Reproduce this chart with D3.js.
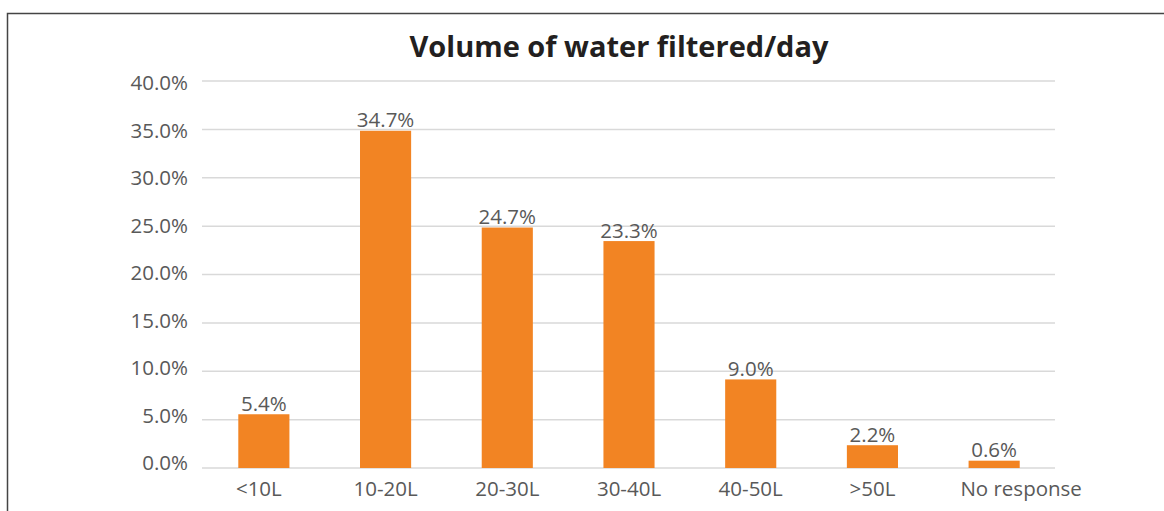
<!DOCTYPE html>
<html><head><meta charset="utf-8">
<script src="https://cdn.jsdelivr.net/npm/d3@7"></script>
<style>body{margin:0;background:#fff}svg{display:block}text{font-family:"Open Sans",sans-serif}</style>
</head><body><svg id="c" width="1164" height="511"></svg>
<script>
const categories = ["<10L","10-20L","20-30L","30-40L","40-50L",">50L","No response"];
const values = [5.4,34.7,24.7,23.3,9.0,2.2,0.6];
const yTicks = [0,5,10,15,20,25,30,35,40];
const title = "Volume of water filtered/day";

const svg = d3.select("#c");
svg.append("path").attr("d","M7.5,511 L7.5,13.5 L1164,13.5").attr("fill","none").attr("stroke","#444").attr("stroke-width",1.5);

const x = d3.scaleBand().domain(categories).range([203,1055]).paddingInner(0.58).paddingOuter(0.29);
const y = d3.scaleLinear().domain([0,40]).range([468,81]);
const yl = d3.scaleLinear().domain([0,40]).range([463,83]);

svg.append("g").selectAll("line").data(yTicks).join("line")
  .attr("x1",202).attr("x2",1055).attr("y1",d=>y(d)).attr("y2",d=>y(d))
  .attr("stroke","#d9d9d9").attr("stroke-width",1.5);

svg.append("g").selectAll("text").data(yTicks).join("text")
  .attr("x",188).attr("y",d=>yl(d)).attr("dy","0.36em").attr("text-anchor","end")
  .attr("font-size",20.5).attr("fill","#595959").text(d=>d.toFixed(1)+"%");

svg.append("g").selectAll("rect").data(values).join("rect")
  .attr("x",(d,i)=>x(categories[i])).attr("width",x.bandwidth())
  .attr("y",d=>y(d)-1.5).attr("height",d=>y(0)-y(d)+1.5).attr("fill","#f28423");

svg.append("g").selectAll("text").data(values).join("text")
  .attr("x",(d,i)=>x(categories[i])+x.bandwidth()/2).attr("y",d=>y(d)-5)
  .attr("text-anchor","middle").attr("font-size",20.5).attr("fill","#595959").text(d=>d.toFixed(1)+"%");

svg.append("g").selectAll("text").data(categories).join("text")
  .attr("x",(d,i)=>x(d)+x.bandwidth()/2 + (i===categories.length-1 ? 27 : (i===0 ? -5 : 0))).attr("y",496)
  .attr("text-anchor","middle").attr("font-size",20.5).attr("fill","#595959").text(d=>d);

svg.append("text").attr("x",619).attr("y",57).attr("text-anchor","middle")
  .attr("font-size",29).attr("font-weight","bold").attr("fill","#231f20").text(title);
</script></body></html>
